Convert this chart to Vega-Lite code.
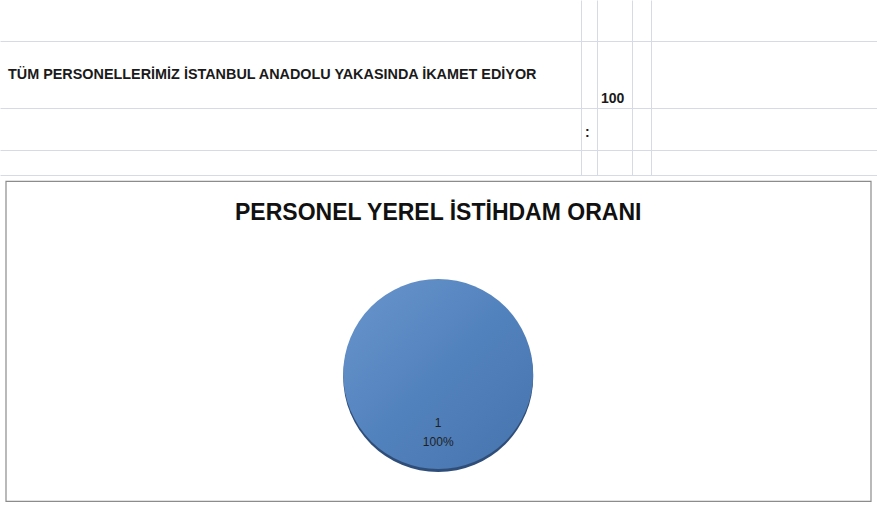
{
  "$schema": "https://vega.github.io/schema/vega-lite/v6.json",
  "padding": 0,
  "background": "white",
  "spacing": 5,
  "center": true,
  "config": {
    "font": "Liberation Sans",
    "view": {"stroke": null}
  },
  "vconcat": [
    {
      "width": 877,
      "height": 175,
      "data": {"values": [
        {"col": 1, "row": 2, "text": "TÜM PERSONELLERİMİZ İSTANBUL ANADOLU YAKASINDA İKAMET EDİYOR", "kind": "label"},
        {"col": 3, "row": 2, "text": "100", "kind": "value"},
        {"col": 2, "row": 3, "text": ":", "kind": "value"}
      ]},
      "encoding": {
        "x": {"field": "col", "type": "quantitative",
          "scale": {"domain": [0.5, 1, 1.5, 2, 2.5, 3, 3.5, 4.5, 5.5], "range": [0, 8, 581, 585, 597, 601, 632, 651, 877]},
          "axis": {"values": [1.5, 2.5, 3.5, 4.5], "grid": true, "gridColor": "#d4dbe6", "domain": false, "ticks": false, "labels": false, "title": null}},
        "y": {"field": "row", "type": "quantitative",
          "scale": {"domain": [0.5, 1.5, 2, 2.5, 3, 3.5, 4.5], "range": [0, 41, 106, 108, 140, 150, 175]},
          "axis": {"values": [1.5, 2.5, 3.5, 4.5], "grid": true, "gridColor": "#d4dbe6", "domain": false, "ticks": false, "labels": false, "title": null}},
        "text": {"field": "text"}
      },
      "layer": [
        {"transform": [{"filter": "datum.kind == 'label'"}],
         "mark": {"type": "text", "align": "left", "baseline": "middle", "dy": -31, "fontSize": 14.4, "fontWeight": "bold", "color": "#1a1a1a"}},
        {"transform": [{"filter": "datum.kind == 'value'"}],
         "mark": {"type": "text", "align": "left", "baseline": "bottom", "fontSize": 14, "fontWeight": "bold", "color": "#1a1a1a"}}
      ]
    },
    {
      "width": 865,
      "height": 320,
      "view": {"stroke": "#8c8c8c", "strokeWidth": 1.2},
      "title": {"text": "PERSONEL YEREL İSTİHDAM ORANI", "fontSize": 23, "fontWeight": "bold", "color": "#111111", "anchor": "middle", "offset": -44, "font": "Liberation Sans"},
      "data": {"values": [{"category": "1", "value": 100, "percent": "100%"}]},
      "encoding": {
        "theta": {"field": "value", "type": "quantitative", "stack": true}
      },
      "layer": [
        {"mark": {"type": "arc", "radius": 95, "yOffset": 36, "color": "#2e4d78"}},
        {"mark": {"type": "arc", "radius": 95, "yOffset": 33,
          "color": {"gradient": "linear", "x1": 0, "y1": 0, "x2": 1, "y2": 1,
            "stops": [{"offset": 0, "color": "#6a95cc"}, {"offset": 0.5, "color": "#5282bd"}, {"offset": 1, "color": "#4673ac"}]}}},
        {"mark": {"type": "text", "radius": 49, "yOffset": 33, "fontSize": 12, "color": "#1f1f1f", "baseline": "middle"},
         "encoding": {"text": {"field": "category"}}},
        {"mark": {"type": "text", "radius": 68, "yOffset": 33, "fontSize": 12, "color": "#1f1f1f", "baseline": "middle"},
         "encoding": {"text": {"field": "percent"}}}
      ]
    }
  ]
}
